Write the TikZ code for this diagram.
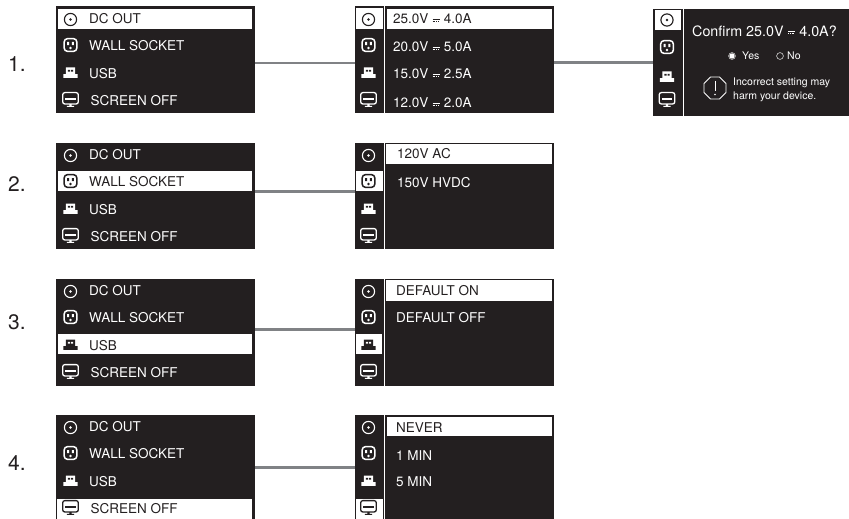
\documentclass[tikz,border=0pt]{standalone}
\usepackage{fontspec}
\setmainfont{TeX Gyre Heros}
\definecolor{panelbg}{HTML}{231F20}
\definecolor{linkgray}{HTML}{808285}
\newcommand\dcicon[3]{\begin{scope}[shift={(#1,#2)},x=1pt,y=-1pt]
\draw[#3,line width=1.1pt] (0,0) circle (6.1);\fill[#3] (0,0) circle (1.3);\end{scope}}
\newcommand\wallicon[3]{\begin{scope}[shift={(#1,#2)},x=1pt,y=-1pt]
\draw[#3,line width=1.5pt,rounded corners=3.5pt] (-6.4,-6.4) rectangle (6.4,6.4);
\fill[#3] (-3.4,-3) rectangle (-1.4,0.2) (1.4,-3) rectangle (3.4,0.2);
\fill[#3] (0,3) circle (1.3);\end{scope}}
\newcommand\usbicon[4]{\begin{scope}[shift={(#1,#2)},x=1pt,y=-1pt]
\fill[#3] (-4.6,-5) rectangle (4.6,2) (-7.2,1.6) rectangle (7.2,5.4);
\fill[#4] (-2.6,-2.6) rectangle (-0.5,-0.8) (0.5,-2.6) rectangle (2.6,-0.8);\end{scope}}
\newcommand\screenicon[3]{\begin{scope}[shift={(#1,#2)},x=1pt,y=-1pt]
\draw[#3,line width=1.3pt,rounded corners=2.2pt] (-7.8,-6.4) rectangle (7.8,5);
\draw[#3,line width=1.2pt] (-5.2,0) -- (5.2,0);
\fill[#3] (-1.1,5) rectangle (1.1,7.2) (-3.6,6.8) rectangle (3.6,7.8);\end{scope}}
\newcommand\dcsym{\tikz[baseline=-0.4ex,x=1pt,y=1pt]{\draw[line width=.8pt] (0,1.5) -- (7,1.5);\draw[line width=.8pt,densely dotted] (0,-.5) -- (7,-.5);}}
\tikzset{
 panel/.style={fill=panelbg,draw=none,inner sep=0pt,minimum width=#1,anchor=north west},
 lnk/.style={draw=linkgray,line width=2.6pt},
 hl/.style={fill=white},
 mt/.style={anchor=west,inner sep=0pt,yshift=-0.7pt,font=\fontsize{13.5}{15}\selectfont,text=#1},
 mt/.default=white,
 small/.style={anchor=west,inner sep=0pt,font=\fontsize{10.5}{12}\selectfont,text=white},
 num/.style={anchor=west,inner sep=0pt,font=\fontsize{21}{23}\selectfont,text=panelbg}
}
\begin{document}
\begin{tikzpicture}[x=1pt,y=-1pt]
\useasboundingbox (0,0) rectangle (849,519);
% panels
\foreach \n/\t/\h in {a/6/107,b/143/106,c/279/107,d/415/104}{
 \node[panel=199pt,minimum height=\h pt] (\n1) at (56,\t) {};
 \node[panel=199pt,minimum height=\h pt] (\n2) at (355,\t) {};
 \fill[white] (384,\t) rectangle (385.2,{\t+\h});
}
\node[panel=196pt,minimum height=107pt] (a3) at (653,9) {};
% connectors
\draw[lnk] ([yshift=-3.5pt]a1.east) -- ([yshift=-3.5pt]a2.west);
\draw[lnk] ([yshift=-3pt]a2.east) -- (a3.west);
\draw[lnk] ([yshift=5pt]b1.east) -- ([yshift=5pt]b2.west);
\draw[lnk] ([yshift=3.5pt]c1.east) -- ([yshift=3.5pt]c2.west);
\draw[lnk] (d1.east) -- (d2.west);
\fill[white] (683,9) rectangle (684.2,116);
% highlights
\fill[hl] (58,9) rectangle (252,29);
\fill[hl] (356,8) rectangle (382.5,29);
\fill[hl] (387,9) rectangle (552,29);
\fill[hl] (655,10) rectangle (681,30);
\fill[hl] (58,171) rectangle (252,191);
\fill[hl] (356,171) rectangle (382.5,191);
\fill[hl] (386,144) rectangle (552,164);
\fill[hl] (58,334) rectangle (252,354);
\fill[hl] (356,334) rectangle (382,354);
\fill[hl] (386,280) rectangle (552,301);
\fill[hl] (57,499) rectangle (252,519);
\fill[hl] (356,499) rectangle (382.5,519);
\fill[hl] (387,417) rectangle (552,436);
% labels
\node[num] (n1) at (8,64) {1.};
\node[num] (n2) at (8,184) {2.};
\node[num] (n3) at (8,322) {3.};
\node[num] (n4) at (8,463) {4.};
% left icons & text
\foreach \s/\o/\ca/\cb/\cc/\cd/\ch in {
 1/0/panelbg/white/white/white/panelbg,
 2/136/white/panelbg/white/white/panelbg,
 3/272/white/white/panelbg/white/white,
 4/408/white/white/white/panelbg/panelbg}{
 \dcicon{70.5}{19.5+\o}{\ca}
 \wallicon{70.5}{45+\o}{\cb}
 \usbicon{70.5}{72.5+\o}{\cc}{\ch}
 \screenicon{70.5}{99+\o}{\cd}
 \node[mt=\ca] (t\s a) at (89,{18+\o}) {DC OUT};
 \node[mt=\cb] (t\s b) at (89,{45+\o}) {WALL SOCKET};
 \node[mt=\cc] (t\s c) at (89,{73+\o}) {USB};
 \node[mt=\cd] (t\s d) at (90.5,{100+\o}) {SCREEN OFF};
 \dcicon{368.5}{19.5+\o}{\ca}
 \wallicon{368.5}{45+\o}{\cb}
 \usbicon{368.5}{72.5+\o}{\cc}{\ch}
 \screenicon{368.5}{99+\o}{\cd}
}
% middle text
\node[mt=panelbg] (m1) at (393,18) {\color{panelbg}25.0V \dcsym\ 4.0A};
\node[mt] (m2) at (393,46) {\color{white}20.0V \dcsym\ 5.0A};
\node[mt] (m3) at (393,73) {\color{white}15.0V \dcsym\ 2.5A};
\node[mt] (m4) at (393,102) {\color{white}12.0V \dcsym\ 2.0A};
\node[mt=panelbg] (w1) at (397,153) {120V AC};
\node[mt] (w2) at (397,182) {150V HVDC};
\node[mt=panelbg] (u1) at (396,290) {DEFAULT ON};
\node[mt] (u2) at (396,317) {DEFAULT OFF};
\node[mt=panelbg] (s1) at (396,427) {NEVER};
\node[mt] (s2) at (396,455) {1 MIN};
\node[mt] (s3) at (396,481) {5 MIN};
% confirm panel
\dcicon{667}{20}{panelbg}
\wallicon{667}{47}{white}
\usbicon{667}{76.5}{white}{panelbg}
\screenicon{667}{99}{white}
\node[anchor=west,inner sep=0pt,font=\fontsize{14.3}{17}\selectfont,text=white] (cf) at (692,31) {\color{white}Confirm 25.0V \dcsym\ 4.0A?};
\fill[white] (732,56) circle (2.6);
\draw[white,line width=.5pt] (732,56) circle (3.4);
\draw[white,line width=.5pt] (780,56) circle (3.4);
\node[small] (yes) at (742,56) {Yes};
\node[small] (no) at (787,56) {No};
\draw[white,line width=.8pt] (710.5,77) -- (719.5,77) -- (726,83.5) -- (726,92.5) -- (719.5,99) -- (710.5,99) -- (704,92.5) -- (704,83.5) -- cycle;
\draw[white,line width=1pt] (715,81) -- (715,91);
\fill[white] (715,94.5) circle (.8);
\node[small] (w3) at (733,83) {Incorrect setting may};
\node[small] (w4) at (733,97) {harm your device.};
\end{tikzpicture}
\end{document}
